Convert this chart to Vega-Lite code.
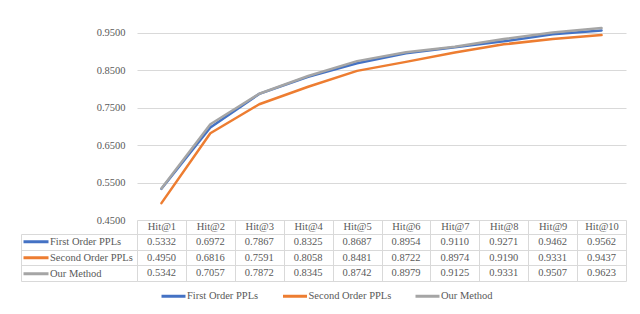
{
  "$schema": "https://vega.github.io/schema/vega-lite/v6.json",
  "background": "white",
  "padding": {"left": 20, "top": 14, "right": 14, "bottom": 4},
  "bounds": "flush",
  "spacing": 14,
  "datasets": {
    "hits": [
      {"series": "First Order PPLs", "hit": "Hit@1", "value": 0.5332},
      {"series": "First Order PPLs", "hit": "Hit@2", "value": 0.6972},
      {"series": "First Order PPLs", "hit": "Hit@3", "value": 0.7867},
      {"series": "First Order PPLs", "hit": "Hit@4", "value": 0.8325},
      {"series": "First Order PPLs", "hit": "Hit@5", "value": 0.8687},
      {"series": "First Order PPLs", "hit": "Hit@6", "value": 0.8954},
      {"series": "First Order PPLs", "hit": "Hit@7", "value": 0.9110},
      {"series": "First Order PPLs", "hit": "Hit@8", "value": 0.9271},
      {"series": "First Order PPLs", "hit": "Hit@9", "value": 0.9462},
      {"series": "First Order PPLs", "hit": "Hit@10", "value": 0.9562},
      {"series": "Second Order PPLs", "hit": "Hit@1", "value": 0.4950},
      {"series": "Second Order PPLs", "hit": "Hit@2", "value": 0.6816},
      {"series": "Second Order PPLs", "hit": "Hit@3", "value": 0.7591},
      {"series": "Second Order PPLs", "hit": "Hit@4", "value": 0.8058},
      {"series": "Second Order PPLs", "hit": "Hit@5", "value": 0.8481},
      {"series": "Second Order PPLs", "hit": "Hit@6", "value": 0.8722},
      {"series": "Second Order PPLs", "hit": "Hit@7", "value": 0.8974},
      {"series": "Second Order PPLs", "hit": "Hit@8", "value": 0.9190},
      {"series": "Second Order PPLs", "hit": "Hit@9", "value": 0.9331},
      {"series": "Second Order PPLs", "hit": "Hit@10", "value": 0.9437},
      {"series": "Our Method", "hit": "Hit@1", "value": 0.5342},
      {"series": "Our Method", "hit": "Hit@2", "value": 0.7057},
      {"series": "Our Method", "hit": "Hit@3", "value": 0.7872},
      {"series": "Our Method", "hit": "Hit@4", "value": 0.8345},
      {"series": "Our Method", "hit": "Hit@5", "value": 0.8742},
      {"series": "Our Method", "hit": "Hit@6", "value": 0.8979},
      {"series": "Our Method", "hit": "Hit@7", "value": 0.9125},
      {"series": "Our Method", "hit": "Hit@8", "value": 0.9331},
      {"series": "Our Method", "hit": "Hit@9", "value": 0.9507},
      {"series": "Our Method", "hit": "Hit@10", "value": 0.9623}
    ]
  },
  "data": {"name": "hits"},
  "config": {
    "view": {"stroke": null},
    "axis": {
      "labelFont": "Liberation Serif",
      "labelFontSize": 10.5,
      "labelColor": "#595959",
      "gridColor": "#d9d9d9",
      "domainColor": "#d9d9d9",
      "tickColor": "#d9d9d9",
      "gridWidth": 1,
      "domainWidth": 1,
      "tickWidth": 1
    },
    "legend": {
      "labelFont": "Liberation Serif",
      "labelFontSize": 10.5,
      "labelColor": "#595959",
      "padding": 0,
      "symbolType": "stroke",
      "symbolStrokeWidth": 3,
      "labelOffset": 0
    }
  },
  "resolve": {"legend": {"color": "independent"}},
  "vconcat": [
    {
      "width": 489,
      "height": 206,
      "mark": {"type": "line", "strokeWidth": 2.5, "strokeJoin": "round", "strokeCap": "round"},
      "encoding": {
        "x": {"field": "hit", "type": "ordinal", "sort": null, "scale": {"type": "point", "padding": 0.5}, "axis": null},
        "y": {
          "field": "value", "type": "quantitative",
          "scale": {"domain": [0.45, 1.0], "nice": false, "zero": false},
          "axis": {"title": null, "values": [0.45, 0.55, 0.65, 0.75, 0.85, 0.95], "format": ".4f", "domain": false, "ticks": false, "labelPadding": 12}
        },
        "color": {
          "field": "series", "type": "nominal", "sort": null,
          "scale": {"domain": ["First Order PPLs", "Second Order PPLs", "Our Method"], "range": ["#4472C4", "#ED7D31", "#A5A5A5"]},
          "legend": {"title": null, "orient": "none", "direction": "horizontal", "legendX": 23, "legendY": 268.5, "symbolSize": 576, "columnPadding": 17.5, "symbolStrokeWidth": 3}
        }
      }
    },
    {
      "width": 489,
      "height": 47,
      "layer": [
        {
          "mark": {"type": "text", "font": "Liberation Serif", "fontSize": 10.5, "color": "#595959", "baseline": "middle"},
          "encoding": {
            "x": {
              "field": "hit", "type": "ordinal", "sort": null,
              "scale": {"type": "band", "paddingInner": 0, "paddingOuter": 0},
              "axis": {"title": null, "orient": "top", "tickBand": "extent", "grid": true, "ticks": true, "tickSize": 14, "domain": true, "labelPadding": -6, "labelBaseline": "middle", "labelAngle": 0}
            },
            "y": {
              "field": "series", "type": "nominal", "sort": null,
              "scale": {"type": "band", "paddingInner": 0, "paddingOuter": 0},
              "axis": {"title": null, "orient": "left", "tickBand": "extent", "grid": true, "ticks": true, "tickSize": 116, "domain": true, "labels": false}
            },
            "text": {"field": "value", "type": "quantitative", "format": ".4f"}
          }
        },
        {
          "mark": {"type": "rule", "opacity": 0},
          "encoding": {
            "y": {
              "field": "series", "type": "nominal", "sort": null,
              "axis": {"title": null, "orient": "left", "offset": 116, "domain": true, "ticks": false, "labels": false, "grid": false}
            },
            "color": {
              "field": "series", "type": "nominal", "sort": null,
              "scale": {"domain": ["First Order PPLs", "Second Order PPLs", "Our Method"], "range": ["#4472C4", "#ED7D31", "#A5A5A5"]},
              "legend": {"title": null, "orient": "none", "direction": "vertical", "legendX": -115, "legendY": 0, "symbolSize": 625, "clipHeight": 15.67, "rowPadding": 0, "symbolStrokeWidth": 3, "symbolOpacity": 1}
            }
          }
        }
      ],
      "resolve": {"axis": {"y": "independent"}}
    }
  ]
}
